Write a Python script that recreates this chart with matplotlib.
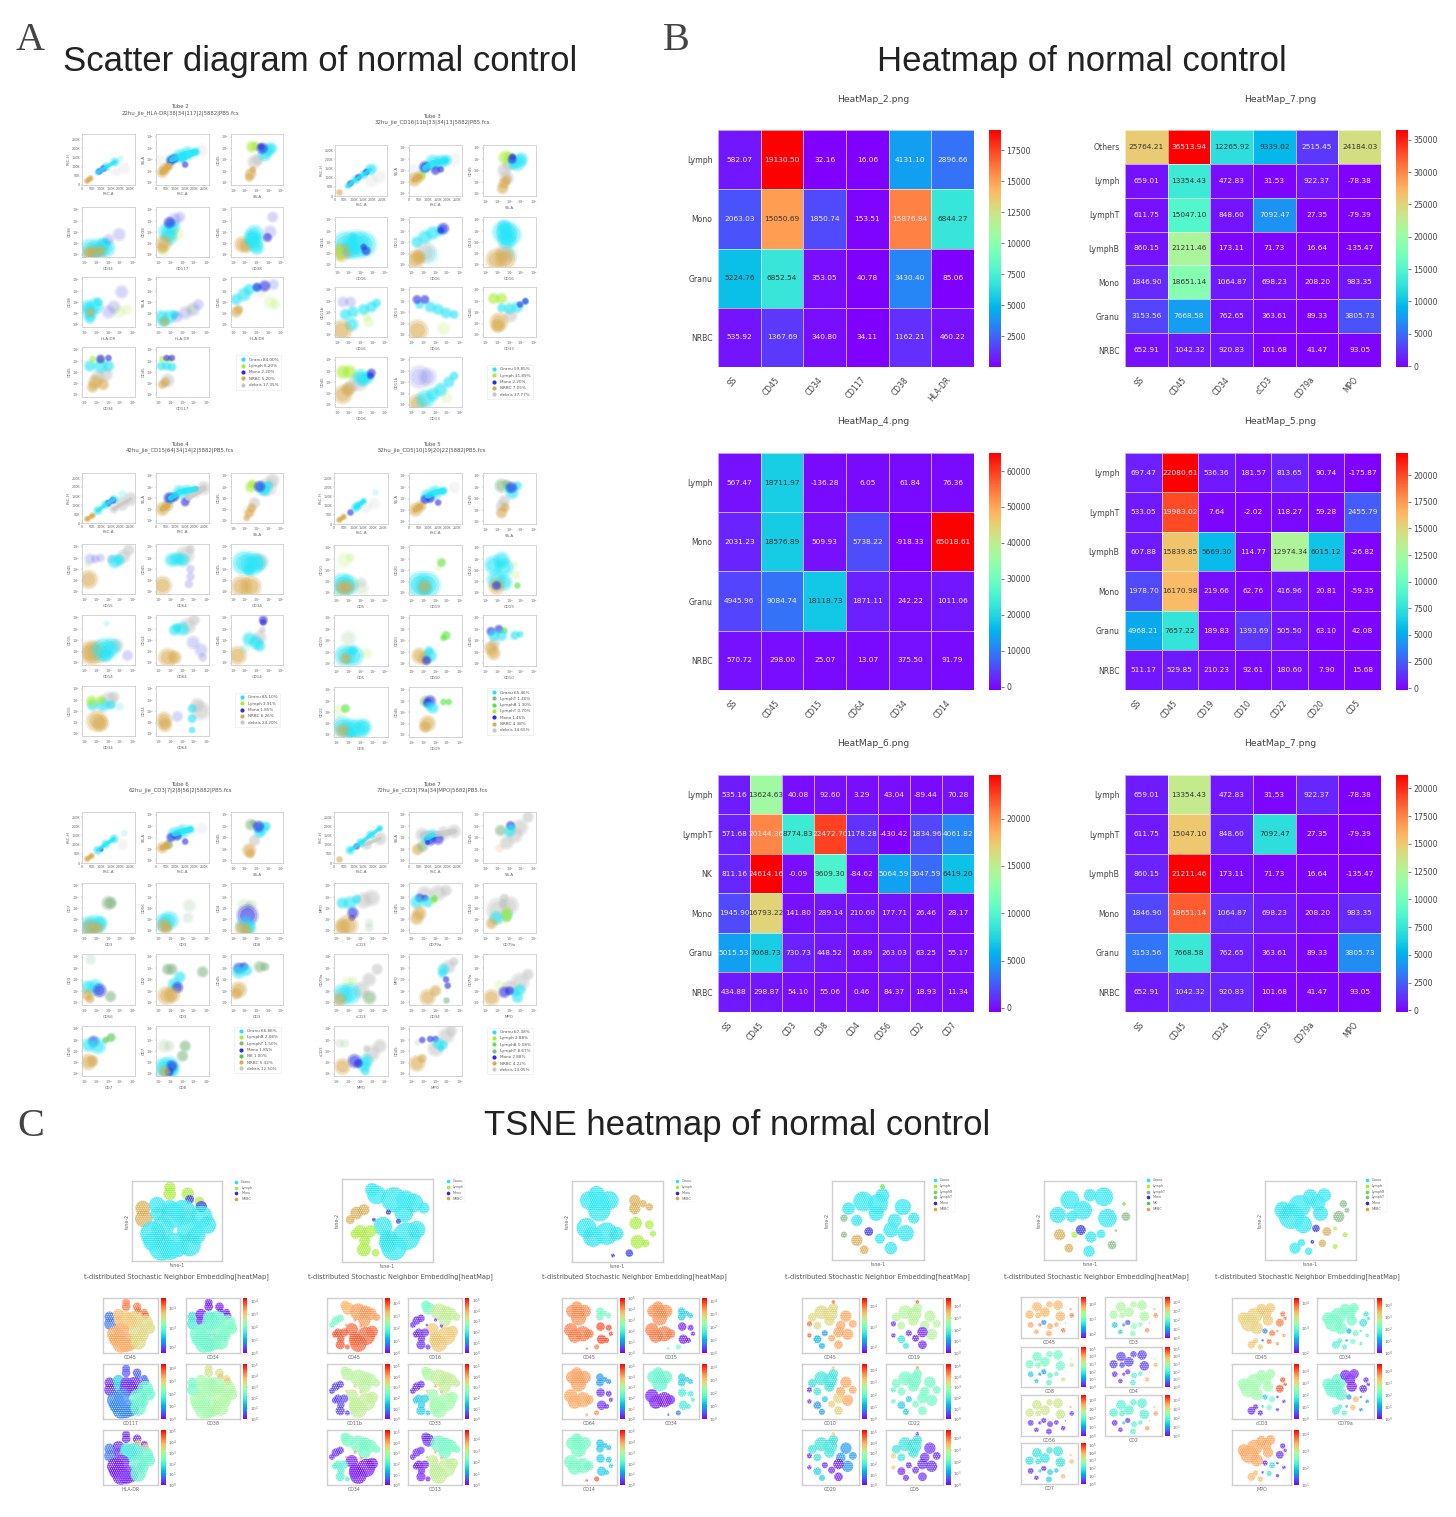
import matplotlib
matplotlib.use("Agg")
import matplotlib.pyplot as plt
import numpy as np
from matplotlib.colors import LogNorm, Normalize
from matplotlib.cm import ScalarMappable
from matplotlib.lines import Line2D

W, H = 1456, 1517
PX = 100 / 72  # pixels per point at dpi 100
GREY = "#444444"
TSNE_SCALE = 1.25

plt.rcParams["font.family"] = "DejaVu Sans"
plt.rcParams["hatch.linewidth"] = .5

# ---------- heatmaps: values ----------
H2_ROWS = ["Lymph", "Mono", "Granu", "NRBC"]
H2_COLS = ["SS", "CD45", "CD34", "CD117", "CD38", "HLA-DR"]
H2_VALUES = [
    [582.07, 19130.50, 32.16, 16.06, 4131.10, 2896.66],
    [2063.03, 15050.69, 1850.74, 153.51, 15876.84, 6844.27],
    [5224.76, 6852.54, 353.05, 40.78, 3430.40, 85.06],
    [535.92, 1367.69, 340.80, 34.11, 1162.21, 460.22],
]
H7A_ROWS = ["Others", "Lymph", "LymphT", "LymphB", "Mono", "Granu", "NRBC"]
H7_COLS = ["SS", "CD45", "CD34", "cCD3", "CD79a", "MPO"]
H7A_VALUES = [
    [25764.21, 36513.94, 12265.92, 9339.02, 2515.45, 24184.03],
    [659.01, 13354.43, 472.83, 31.53, 922.37, -78.38],
    [611.75, 15047.10, 848.60, 7092.47, 27.35, -79.39],
    [860.15, 21211.46, 173.11, 71.73, 16.64, -135.47],
    [1846.90, 18651.14, 1064.87, 698.23, 208.20, 983.35],
    [3153.56, 7668.58, 762.65, 363.61, 89.33, 3805.73],
    [652.91, 1042.32, 920.83, 101.68, 41.47, 93.05],
]
H4_ROWS = ["Lymph", "Mono", "Granu", "NRBC"]
H4_COLS = ["SS", "CD45", "CD15", "CD64", "CD34", "CD14"]
H4_VALUES = [
    [567.47, 18711.97, -136.28, 6.05, 61.84, 76.36],
    [2031.23, 18576.89, 509.93, 5738.22, -918.33, 65018.61],
    [4945.96, 9084.74, 18118.73, 1871.11, 242.22, 1011.06],
    [570.72, 298.00, 25.07, 13.07, 375.50, 91.79],
]
H5_ROWS = ["Lymph", "LymphT", "LymphB", "Mono", "Granu", "NRBC"]
H5_COLS = ["SS", "CD45", "CD19", "CD10", "CD22", "CD20", "CD5"]
H5_VALUES = [
    [697.47, 22080.61, 536.36, 181.57, 813.65, 90.74, -175.87],
    [533.05, 19983.02, 7.64, -2.02, 118.27, 59.28, 2455.79],
    [607.88, 15839.85, 5669.30, 114.77, 12974.34, 6015.12, -26.82],
    [1978.70, 16170.98, 219.66, 62.76, 416.96, 20.81, -59.35],
    [4968.21, 7657.22, 189.83, 1393.69, 505.50, 63.10, 42.08],
    [511.17, 529.85, 210.23, 92.61, 180.60, 7.90, 15.68],
]
H6_ROWS = ["Lymph", "LymphT", "NK", "Mono", "Granu", "NRBC"]
H6_COLS = ["SS", "CD45", "CD3", "CD8", "CD4", "CD56", "CD2", "CD7"]
H6_VALUES = [
    [535.16, 13624.63, 40.08, 92.60, 3.29, 43.04, -89.44, 70.28],
    [571.68, 20144.36, 8774.83, 22472.70, 1178.28, -430.42, 1834.96, 4061.82],
    [811.16, 24614.16, -0.09, 9609.30, -84.62, 5064.59, 3047.59, 6419.20],
    [1945.90, 16793.22, 141.80, 289.14, 210.60, 177.71, 26.46, 28.17],
    [5015.53, 7068.73, 730.73, 448.52, 16.89, 263.03, 63.25, 55.17],
    [434.88, 298.87, 54.10, 55.06, 0.46, 84.37, 18.93, 11.34],
]

# ---------- flow cytometry panels: clouds as (x, y, spread) ----------
CLASS_COLORS = {"g": "#1fe6f7", "l": "#a6ee35", "b": "#55e83a", "t": "#86b886", "k": "#4cc84c",
                "m": "#2b2be6", "n": "#d8aa4e", "d": "#c8c8c8"}

TUBE2 = [
    {"df": [(80, 32, 5), (65, 26, 4)], "n": [(10, 8, 3), (16, 13, 3)], "g": [(30, 25, 3), (45, 35, 4), (62, 45, 4)], "m": [(33, 27, 3), (40, 32, 3)], "gf": [(72, 52, 3)]},
    {"df": [(10, 45, 6), (85, 68, 6)], "n": [(12, 25, 5), (18, 32, 5), (25, 38, 4)], "g": [(30, 50, 5), (45, 57, 6), (60, 62, 6), (75, 65, 4), (50, 52, 4)], "m": [(28, 48, 4), (35, 52, 4), (55, 40, 3)]},
    {"d": [(45, 45, 6), (52, 50, 5)], "l": [(40, 75, 5), (48, 76, 4)], "g": [(70, 68, 6), (65, 60, 6), (78, 72, 5)], "m": [(60, 72, 5), (58, 75, 3)], "n": [(38, 22, 5), (35, 15, 4), (42, 30, 3)]},
    {"g": [(15, 15, 9), (30, 15, 9), (45, 18, 8), (40, 25, 6), (25, 8, 6)], "n": [(20, 10, 6), (35, 12, 5), (12, 8, 5)], "mf": [(50, 35, 5), (70, 45, 6)]},
    {"g": [(22, 50, 8), (30, 60, 7), (25, 40, 7)], "m": [(25, 70, 5)], "mf": [(35, 75, 6), (45, 80, 5)], "n": [(15, 28, 7), (12, 18, 5)], "lf": [(40, 45, 6), (15, 10, 5)]},
    {"n": [(22, 25, 7), (30, 22, 6)], "g": [(45, 30, 8), (45, 45, 8), (50, 18, 6), (40, 38, 7)], "m": [(70, 40, 4)], "mf": [(75, 50, 6), (80, 80, 5)]},
    {"g": [(10, 40, 6), (25, 42, 7), (30, 50, 4), (15, 30, 7), (15, 18, 5)], "n": [(15, 30, 4)], "mf": [(50, 30, 6), (60, 40, 6), (75, 70, 6)], "lf": [(70, 30, 6), (85, 35, 5)]},
    {"g": [(10, 20, 6), (25, 20, 6), (15, 10, 5), (35, 25, 4)], "n": [(15, 12, 4)], "mf": [(40, 20, 5), (55, 28, 6), (70, 35, 6), (80, 45, 5)], "lf": [(65, 35, 5)]},
    {"n": [(10, 30, 5), (15, 35, 4)], "g": [(10, 55, 5), (25, 65, 6), (35, 75, 5), (50, 78, 4)], "m": [(50, 80, 4), (65, 82, 5)], "mf": [(80, 85, 5)], "lf": [(75, 50, 6), (85, 45, 5)], "df": [(55, 70, 5)]},
    {"d": [(45, 45, 6), (30, 40, 6)], "n": [(25, 30, 6), (40, 25, 5), (20, 20, 5)], "g": [(15, 62, 5), (35, 62, 6), (50, 62, 5)], "l": [(20, 76, 3), (35, 75, 3)], "m": [(35, 76, 4), (50, 78, 3)]},
    {"d": [(20, 35, 6)], "n": [(12, 25, 4), (18, 30, 4)], "g": [(10, 62, 4), (20, 62, 4), (30, 60, 4)], "l": [(12, 76, 3), (25, 76, 3)], "m": [(20, 78, 3), (30, 78, 3)]},
]
TUBE3 = [
    {"df": [(70, 30, 6), (85, 38, 6)], "n": [(8, 7, 3)], "g": [(25, 20, 3), (40, 32, 4), (55, 42, 4), (68, 52, 5)], "m": [(30, 25, 3), (45, 37, 3), (60, 47, 3)], "gf": [(75, 57, 4)]},
    {"df": [(10, 50, 6), (85, 72, 6)], "n": [(10, 32, 6), (20, 38, 5)], "l": [(25, 42, 3)], "g": [(30, 55, 5), (45, 65, 7), (60, 67, 6), (70, 70, 5)], "m": [(30, 57, 5), (50, 50, 4), (60, 52, 3)]},
    {"d": [(40, 50, 6), (48, 60, 5), (45, 35, 6)], "l": [(42, 75, 6), (50, 76, 5)], "g": [(65, 65, 7), (72, 72, 6), (58, 63, 5)], "m": [(55, 72, 4), (56, 77, 3)], "n": [(40, 25, 5), (37, 15, 5), (45, 32, 4)]},
    {"g": [(20, 45, 11), (40, 45, 12), (55, 45, 11), (30, 35, 8), (35, 60, 4)], "n": [(12, 30, 8)], "l": [(8, 35, 4), (10, 20, 3)], "m": [(60, 32, 4), (55, 40, 3)]},
    {"d": [(30, 30, 9)], "g": [(15, 50, 5), (30, 60, 6), (45, 68, 6), (60, 73, 5)], "gf": [(40, 25, 8)], "m": [(65, 77, 5), (60, 73, 3)], "n": [(12, 15, 8), (18, 20, 6)]},
    {"d": [(40, 30, 8)], "g": [(40, 70, 10), (50, 65, 10), (45, 55, 8), (40, 80, 6)], "gf": [(50, 28, 7)], "n": [(25, 15, 9), (42, 17, 9)]},
    {"g": [(20, 45, 5), (35, 50, 5), (55, 55, 5), (70, 60, 5), (80, 68, 4), (32, 25, 6)], "n": [(12, 15, 9)], "mf": [(15, 70, 5), (30, 70, 5)], "lf": [(65, 30, 5), (60, 40, 4)]},
    {"g": [(20, 65, 4), (40, 60, 5), (55, 55, 5), (70, 48, 5), (85, 45, 4)], "m": [(15, 75, 4), (30, 75, 4)], "n": [(15, 15, 9)], "lf": [(65, 18, 6)]},
    {"d": [(50, 45, 6)], "l": [(20, 77, 5), (35, 77, 5)], "g": [(35, 58, 4), (50, 57, 5), (65, 60, 5), (80, 70, 3)], "m": [(70, 65, 3), (80, 72, 3)], "n": [(30, 30, 8), (28, 22, 6)]},
    {"d": [(45, 50, 8), (30, 40, 6)], "l": [(15, 70, 6), (28, 70, 6)], "g": [(50, 60, 7), (55, 55, 6), (65, 60, 5)], "m": [(70, 68, 4), (68, 62, 3)], "n": [(15, 25, 8), (25, 35, 6)]},
    {"mf": [(20, 60, 10), (35, 60, 8)], "n": [(15, 8, 8)], "g": [(30, 15, 8), (45, 25, 6), (60, 35, 6), (75, 50, 5), (85, 62, 4)], "lf": [(70, 20, 5)]},
]
TUBE4 = [
    {"d": [(60, 28, 4), (75, 38, 6), (92, 48, 6)], "n": [(10, 8, 3), (20, 15, 3)], "g": [(30, 25, 4), (45, 37, 4), (60, 47, 4)], "m": [(50, 40, 3), (58, 45, 3)], "gf": [(75, 58, 4)]},
    {"d": [(75, 62, 5), (90, 70, 6), (60, 50, 4)], "n": [(12, 28, 6), (22, 35, 5)], "g": [(28, 50, 5), (45, 62, 6), (60, 65, 5), (75, 68, 3)], "m": [(25, 50, 5), (35, 52, 4), (55, 42, 4)]},
    {"d": [(70, 72, 8), (80, 85, 6), (45, 40, 5)], "l": [(38, 72, 5), (42, 78, 4)], "g": [(60, 70, 6), (65, 65, 5), (72, 75, 4)], "m": [(53, 75, 5)], "n": [(35, 20, 4), (40, 30, 4), (30, 10, 3)], "nf": [(35, 25, 6)]},
    {"d": [(78, 75, 6), (88, 88, 5)], "mf": [(15, 70, 5), (25, 70, 4), (35, 72, 4), (55, 70, 4)], "g": [(62, 65, 6), (70, 68, 5)], "n": [(12, 30, 8)], "lf": [(10, 60, 3)]},
    {"d": [(55, 78, 8), (65, 90, 4)], "g": [(30, 68, 6), (40, 70, 6), (50, 68, 6)], "mf": [(65, 50, 4), (65, 35, 4), (62, 20, 4)], "n": [(12, 18, 8)]},
    {"d": [(55, 65, 7)], "g": [(25, 62, 10), (40, 60, 10), (50, 62, 8), (35, 48, 5)], "n": [(20, 15, 9), (38, 15, 9)]},
    {"d": [(65, 40, 6)], "n": [(15, 25, 10), (25, 25, 10)], "g": [(40, 30, 10), (55, 35, 8), (45, 20, 6)], "gf": [(45, 85, 3)], "mf": [(85, 20, 5)]},
    {"d": [(60, 78, 7), (72, 90, 5)], "g": [(35, 70, 5), (50, 72, 6), (40, 75, 4)], "mf": [(70, 45, 6), (85, 30, 6), (88, 15, 4)], "n": [(22, 15, 8), (35, 15, 6)]},
    {"d": [(55, 55, 6), (60, 70, 3)], "m": [(62, 90, 4), (62, 85, 3)], "g": [(35, 52, 6), (48, 45, 6), (55, 38, 5)], "n": [(12, 20, 8)], "gf": [(25, 35, 4)]},
    {"d": [(50, 72, 7), (60, 78, 5)], "g": [(20, 62, 5), (40, 62, 6), (55, 62, 4)], "l": [(18, 70, 5), (35, 72, 4)], "n": [(28, 30, 9), (35, 25, 7)], "gf": [(70, 60, 4)]},
    {"d": [(85, 50, 8), (78, 62, 6)], "g": [(68, 55, 4), (68, 35, 4), (68, 12, 3)], "n": [(15, 32, 7), (17, 22, 6)], "mf": [(40, 40, 5)]},
]
TUBE5 = [
    {"df": [(75, 40, 5), (60, 32, 5)], "n": [(10, 8, 3), (18, 14, 3)], "m": [(30, 24, 3)], "g": [(40, 32, 4), (55, 45, 3), (45, 37, 4)], "gf": [(75, 62, 3)]},
    {"df": [(85, 72, 5)], "n": [(12, 28, 6), (22, 35, 5)], "g": [(35, 55, 6), (50, 62, 6), (65, 65, 4)], "m": [(30, 48, 4), (40, 50, 4), (55, 42, 3)]},
    {"d": [(40, 45, 5), (35, 35, 5)], "t": [(35, 75, 6), (45, 78, 4)], "g": [(55, 62, 6), (50, 70, 4), (65, 75, 4)], "m": [(52, 72, 5)], "n": [(35, 22, 5), (42, 32, 4)]},
    {"g": [(15, 20, 10), (25, 20, 9)], "n": [(15, 15, 6), (25, 15, 6)], "tf": [(50, 15, 7), (50, 25, 5)], "lf": [(20, 70, 7), (30, 75, 4)]},
    {"g": [(20, 20, 11), (35, 20, 11), (30, 12, 6)], "n": [(28, 18, 6)], "b": [(60, 65, 4)], "lf": [(55, 55, 3)]},
    {"g": [(20, 60, 8), (35, 70, 7), (40, 55, 8), (25, 30, 8), (40, 25, 7)], "n": [(25, 18, 7)], "m": [(25, 20, 4)], "b": [(65, 20, 3)], "lf": [(62, 40, 4), (60, 60, 3)]},
    {"tf": [(25, 55, 7)], "g": [(20, 20, 9), (35, 20, 9), (35, 30, 4)], "n": [(20, 15, 5)], "lf": [(60, 25, 5)]},
    {"b": [(70, 60, 4), (65, 55, 3)], "n": [(20, 20, 7), (30, 15, 6)], "g": [(40, 20, 6), (38, 30, 4)], "m": [(33, 12, 4)]},
    {"d": [(20, 45, 5)], "m": [(15, 68, 4), (30, 72, 4)], "b": [(40, 70, 3)], "g": [(20, 60, 5), (35, 60, 5), (60, 60, 4), (70, 62, 3)], "n": [(15, 35, 6), (20, 25, 6)]},
    {"lf": [(10, 55, 6)], "b": [(20, 58, 4)], "g": [(15, 20, 9), (30, 15, 9), (45, 15, 9), (55, 20, 7), (30, 8, 5)], "n": [(15, 15, 6)]},
    {"t": [(30, 72, 5)], "m": [(40, 72, 5), (35, 68, 4)], "g": [(45, 58, 5), (38, 62, 4)], "b": [(75, 70, 3), (65, 70, 3)], "n": [(35, 27, 7), (30, 20, 5)]},
]
TUBE6 = [
    {"df": [(75, 38, 5)], "n": [(10, 8, 3), (18, 14, 3)], "g": [(30, 25, 4), (45, 37, 4), (60, 47, 4)], "m": [(35, 28, 2)], "gf": [(80, 58, 3)]},
    {"df": [(85, 68, 5)], "n": [(12, 30, 5), (22, 35, 4)], "t": [(22, 38, 4)], "g": [(35, 57, 6), (50, 62, 6), (65, 66, 4)], "m": [(28, 50, 4), (40, 53, 4), (55, 42, 3)]},
    {"d": [(45, 45, 5)], "t": [(38, 75, 5), (43, 78, 3)], "g": [(58, 68, 6), (55, 60, 5), (68, 72, 4)], "m": [(52, 72, 5)], "n": [(35, 25, 6), (37, 18, 4)]},
    {"t": [(50, 60, 6), (55, 60, 5)], "g": [(12, 12, 9), (25, 15, 9), (35, 20, 6)], "n": [(15, 10, 7), (30, 10, 5)]},
    {"tf": [(63, 55, 6), (60, 30, 5)], "g": [(15, 20, 8), (25, 25, 8)], "n": [(15, 15, 6), (20, 10, 5)]},
    {"tf": [(25, 55, 6), (40, 55, 5), (35, 55, 4)], "m": [(30, 35, 9)], "g": [(28, 15, 8), (35, 10, 6)], "n": [(20, 10, 6), (30, 5, 5)]},
    {"tf": [(15, 90, 5)], "g": [(10, 35, 6), (25, 35, 7)], "m": [(32, 30, 6)], "n": [(10, 20, 5), (15, 12, 4)], "t": [(52, 18, 5)]},
    {"t": [(22, 70, 5), (30, 70, 5), (88, 65, 5)], "g": [(35, 40, 6), (45, 55, 5)], "m": [(40, 35, 5)], "n": [(20, 18, 8), (30, 20, 7)]},
    {"m": [(15, 72, 5), (25, 75, 4)], "g": [(15, 65, 6), (30, 68, 5)], "t": [(55, 75, 5), (65, 75, 4)], "n": [(15, 30, 7), (10, 22, 5)]},
    {"m": [(20, 70, 5)], "g": [(12, 62, 6), (30, 60, 7)], "k": [(55, 77, 4), (45, 72, 3)], "n": [(12, 28, 7), (20, 30, 5)]},
    {"tf": [(15, 60, 6), (25, 60, 5)], "t": [(55, 60, 5), (50, 40, 5)], "g": [(15, 15, 9), (25, 18, 9), (30, 12, 6)], "m": [(30, 20, 5), (25, 8, 4)], "n": [(15, 10, 5)]},
]
TUBE7 = [
    {"d": [(60, 37, 5), (85, 48, 6)], "n": [(10, 8, 3)], "g": [(30, 25, 4), (50, 40, 4), (68, 55, 4), (85, 68, 3)], "m": [(40, 33, 3)]},
    {"d": [(25, 55, 6), (65, 58, 6), (85, 62, 6)], "n": [(15, 28, 5)], "t": [(25, 33, 5)], "g": [(35, 50, 6), (45, 55, 5)], "m": [(40, 45, 5), (55, 47, 5), (35, 40, 2)]},
    {"d": [(60, 55, 7), (70, 70, 7), (85, 90, 5), (45, 40, 6)], "t": [(32, 65, 5)], "m": [(50, 75, 4)], "g": [(50, 62, 5), (55, 70, 3)], "nf": [(30, 30, 4)]},
    {"d": [(55, 65, 7), (70, 70, 7)], "g": [(15, 60, 5), (30, 60, 6), (42, 68, 4)], "m": [(35, 40, 5), (33, 30, 3)], "n": [(25, 15, 9), (15, 12, 7)], "tf": [(65, 20, 4), (65, 10, 4)]},
    {"d": [(30, 78, 7), (55, 80, 7), (70, 85, 5)], "m": [(20, 70, 4), (30, 70, 3)], "g": [(15, 62, 6), (35, 62, 5)], "l": [(45, 65, 3)], "b": [(48, 70, 3)], "n": [(20, 40, 6), (15, 30, 6)]},
    {"d": [(30, 45, 11), (50, 55, 8), (40, 70, 4)], "g": [(25, 30, 6), (45, 35, 5)], "l": [(45, 40, 5), (45, 30, 4)], "tf": [(35, 60, 4)], "n": [(15, 20, 5)]},
    {"d": [(50, 30, 7), (65, 50, 6), (80, 70, 5)], "lf": [(25, 45, 5), (35, 48, 4)], "g": [(15, 20, 9), (30, 22, 9)], "t": [(65, 15, 6)], "n": [(10, 12, 6)]},
    {"d": [(75, 75, 6), (85, 85, 4)], "g": [(65, 70, 5), (63, 62, 4)], "m": [(70, 50, 3), (73, 38, 3)], "t": [(70, 10, 3)], "n": [(35, 15, 7), (50, 28, 5)]},
    {"d": [(70, 45, 8), (50, 35, 6), (85, 60, 5)], "lf": [(30, 40, 5)], "g": [(70, 30, 5), (65, 15, 5), (60, 25, 4)], "m": [(40, 25, 5), (50, 28, 4)], "n": [(15, 15, 7)]},
    {"d": [(70, 45, 7), (85, 60, 6), (60, 55, 3)], "tf": [(10, 65, 4), (20, 65, 4)], "g": [(55, 22, 6), (60, 30, 6), (58, 10, 4)], "m": [(38, 30, 6), (45, 25, 4)], "n": [(15, 20, 7)]},
    {"d": [(50, 55, 7), (70, 80, 7), (80, 90, 5)], "m": [(25, 72, 3), (40, 74, 3), (50, 74, 3)], "tf": [(15, 68, 3)], "g": [(55, 65, 5), (65, 62, 4), (60, 55, 3)], "n": [(15, 25, 7), (25, 35, 4)]},
]

TUBE2_AXES = [("FSC-A", "FSC-H"), ("FSC-A", "SS-A"), ("SS-A", "CD45"), ("CD34", "CD38"), ("CD117", "CD38"), ("CD38", "CD45"),
              ("HLA-DR", "CD38"), ("HLA-DR", "SS-A"), ("HLA-DR", "CD45"), ("CD34", "CD45"), ("CD117", "CD45")]
TUBE3_AXES = [("FSC-A", "FSC-H"), ("FSC-A", "SS-A"), ("SS-A", "CD45"), ("CD16", "CD34"), ("CD16", "CD13"), ("CD16", "CD33"),
              ("CD16", "CD11b"), ("CD16", "CD13"), ("CD33", "CD45"), ("CD16", "CD45"), ("CD13", "CD11b")]
TUBE4_AXES = [("FSC-A", "FSC-H"), ("FSC-A", "SS-A"), ("SS-A", "CD45"), ("CD15", "CD45"), ("CD64", "CD45"), ("CD34", "CD45"),
              ("CD14", "CD15"), ("CD64", "CD14"), ("CD14", "CD45"), ("CD34", "CD15"), ("CD64", "CD34")]
TUBE5_AXES = [("FSC-A", "FSC-H"), ("FSC-A", "SS-A"), ("SS-A", "CD45"), ("CD5", "CD10"), ("CD19", "CD20"), ("CD19", "CD22"),
              ("CD5", "CD19"), ("CD10", "CD20"), ("CD10", "CD45"), ("CD5", "CD22"), ("CD19", "CD45")]
TUBE6_AXES = [("FSC-A", "FSC-H"), ("FSC-A", "SS-A"), ("SS-A", "CD45"), ("CD3", "CD7"), ("CD3", "CD56"), ("CD8", "CD4"),
              ("CD56", "CD3"), ("CD3", "CD2"), ("CD3", "CD45"), ("CD7", "CD45"), ("CD8", "CD7")]
TUBE7_AXES = [("FSC-A", "FSC-H"), ("FSC-A", "SS-A"), ("SS-A", "CD45"), ("cCD3", "MPO"), ("CD79a", "CD45"), ("CD79a", "CD34"),
              ("cCD3", "CD79a"), ("CD34", "MPO"), ("MPO", "CD79a"), ("MPO", "cCD3"), ("MPO", "CD45")]

TUBE2_LEGEND = [("g", "Granu 84.00%"), ("l", "Lymph 8.20%"), ("m", "Mono 2.20%"), ("n", "NRBC 5.20%"), ("d", "debris 17.35%")]
TUBE3_LEGEND = [("g", "Granu 59.85%"), ("l", "Lymph 31.89%"), ("m", "Mono 2.20%"), ("n", "NRBC 7.05%"), ("d", "debris 37.77%")]
TUBE4_LEGEND = [("g", "Granu 85.10%"), ("l", "Lymph 3.91%"), ("m", "Mono 1.85%"), ("n", "NRBC 6.26%"), ("d", "debris 24.20%")]
TUBE5_LEGEND = [("g", "Granu 65.46%"), ("t", "LymphT 1.40%"), ("b", "LymphB 1.30%"), ("l", "LymphT 0.70%"), ("m", "Mono 1.45%"), ("n", "NRBC 4.38%"), ("d", "debris 34.65%")]
TUBE6_LEGEND = [("g", "Granu 66.86%"), ("l", "LymphB 2.08%"), ("t", "LymphT 1.50%"), ("m", "Mono 1.85%"), ("k", "NK 1.00%"), ("n", "NRBC 5.32%"), ("d", "debris 12.50%")]
TUBE7_LEGEND = [("g", "Granu 67.38%"), ("l", "Lymph 2.88%"), ("b", "LymphB 0.58%"), ("t", "LymphT 8.67%"), ("m", "Mono 2.88%"), ("n", "NRBC 4.22%"), ("d", "debris 13.05%")]

# ---------- t-SNE maps: patches as (x, y, size, group), one colour position per group ----------
T1_PATCHES = [(42, 92, 9, 0), (42, 84, 10, 0), (62, 84, 10, 0), (75, 74, 8, 0), (64, 77, 7, 1), (77, 68, 9, 1),
              (12, 66, 12, 2), (13, 53, 14, 2), (28, 70, 13, 3), (28, 59, 11, 3),
              (46, 57, 20, 4), (57, 61, 20, 4), (42, 66, 13, 4),
              (23, 34, 20, 5), (34, 41, 18, 5), (33, 16, 20, 5), (49, 20, 20, 5), (42, 14, 16, 5), (23, 24, 15, 5),
              (77, 55, 18, 6), (64, 39, 20, 6), (84, 45, 14, 6), (64, 20, 18, 6), (72, 32, 14, 6)]
T1_CLASSES = ["l", "m", "n", "g", "g", "g", "g"]
T1_MARKERS = ["CD45", "CD34", "CD117", "CD38", "HLA-DR"]
T1_LEVELS = [[.85, .88, .15, .75, .72, .78, .68], [.03, .04, .36, .02, .42, .43, .45], [.1, .15, .05, .3, .05, .17, .42],
             [.65, .75, .45, .55, .55, .55, .58], [.05, .75, .15, .05, .36, .03, .42]]
T1_DECADES = [(1.7, 4.5), (0, 4.2), (0, 4.3), (0, 5.1), (0, 5.1)]
T1_LEGEND = ["Granu", "Lymph", "Mono", "NRBC"]

T2_PATCHES = [(38, 81, 15, 0), (33, 87, 11, 0), (57, 75, 20, 1), (79, 71, 15, 1), (68, 59, 15, 1), (90, 65, 9, 1), (70, 75, 15, 1),
              (45, 43, 15, 2), (51, 28, 14, 2), (71, 31, 22, 2), (82, 39, 14, 2), (57, 17, 20, 2), (51, 23, 15, 2),
              (51, 60, 4, 3), (62, 49, 4, 3), (35, 51, 3, 3),
              (16, 59, 10, 4), (9, 51, 7, 4), (24, 63, 9, 4),
              (20, 37, 10, 5), (31, 37, 10, 5), (24, 15, 11, 5), (37, 11, 6, 5), (15, 34, 8, 5), (25, 26, 9, 5)]
T2_CLASSES = ["g", "g", "g", "m", "n", "l"]
T2_MARKERS = ["CD45", "CD16", "CD11b", "CD33", "CD34", "CD13"]
T2_LEVELS = [[.75, .8, .88, .8, .45, .9], [.45, .62, .72, .05, .05, .05], [.6, .6, .62, .7, .08, .08],
             [.58, .62, .55, .75, .05, .3], [.45, .45, .02, .8, .05, .4], [.05, .45, .62, .75, .05, .03]]
T2_DECADES = [(0, 4.4), (0, 5.2), (0, 5.2), (0, 5.2), (0, 5.2), (0, 4.8)]
T2_LEGEND = ["Granu", "Lymph", "Mono", "NRBC"]

T3_PATCHES = [(30, 64, 18, 0), (19, 76, 15, 0), (41, 76, 15, 0), (27, 84, 13, 0), (30, 75, 15, 0),
              (16, 42, 16, 1), (38, 35, 18, 1), (23, 31, 16, 1), (49, 35, 11, 1),
              (69, 76, 9, 2), (78, 72, 6, 2), (69, 66, 9, 2), (85, 68, 6, 2),
              (70, 48, 10, 3), (85, 46, 7, 3), (72, 25, 11, 3), (81, 23, 6, 3), (89, 35, 5, 3),
              (45, 8, 3, 4), (63, 11, 6, 4)]
T3_CLASSES = ["g", "g", "n", "l", "m"]
T3_MARKERS = ["CD45", "CD15", "CD64", "CD34", "CD14"]
T3_LEVELS = [[.82, .85, .45, .92, .85], [.82, .85, .3, .03, .45], [.8, .78, .2, .05, .82],
             [.42, .02, .3, .38, .15], [.45, .45, .28, .3, .9]]
T3_DECADES = [(0, 5), (0, 4.2), (0, 5.2), (0, 4.2), (0, 5.1)]
T3_LEGEND = ["Granu", "Lymph", "Mono", "NRBC"]

T4_PATCHES = [(34, 74, 16, 0), (18, 65, 10, 0), (50, 71, 16, 0), (27, 50, 9, 0), (48, 59, 12, 0), (55, 82, 11, 0),
              (77, 67, 13, 1), (89, 53, 9, 1), (80, 34, 13, 1), (68, 50, 11, 1),
              (55, 93, 4, 2), (13, 53, 6, 3), (13, 32, 5, 3), (40, 36, 7, 4), (27, 25, 9, 5), (35, 13, 7, 5),
              (64, 38, 12, 6), (64, 15, 10, 6), (52, 27, 8, 6)]
T4_CLASSES = ["g", "g", "b", "t", "m", "n", "g"]
T4_MARKERS = ["CD45", "CD19", "CD10", "CD22", "CD20", "CD5"]
T4_LEVELS = [[.68, .78, .9, .88, .2, .25, .78], [.6, .6, .9, .05, .05, .35, .03], [.35, .78, .7, .05, .3, .2, .7],
             [.45, .45, .8, .4, .3, .3, .45], [.35, .2, .7, .05, .05, .3, .03], [.35, .05, .05, .7, .05, .03, .05]]
T4_DECADES = [(1.7, 4.4), (0, 4.7), (0, 4.5), (0, 5.2), (0, 5.2), (0, 4.7)]
T4_LEGEND = ["Granu", "Lymph", "LymphB", "LymphT", "Mono", "NRBC"]

T5_PATCHES = [(28, 76, 15, 0), (15, 57, 13, 0), (42, 63, 15, 0), (65, 80, 15, 0), (69, 53, 15, 0), (50, 82, 10, 0), (30, 55, 9, 0),
              (87, 71, 3, 1), (89, 55, 7, 2), (74, 19, 7, 2), (78, 37, 2, 2),
              (40, 38, 8, 3), (17, 32, 9, 4), (27, 15, 7, 4), (33, 32, 5, 5),
              (51, 29, 9, 6), (49, 11, 9, 6), (62, 33, 7, 6)]
T5_CLASSES = ["g", "b", "t", "m", "n", "l", "g"]
T5_MARKERS = ["CD45", "CD3", "CD8", "CD4", "CD56", "CD2", "CD7"]
T5_LEVELS = [[.75, .85, .85, .2, .78, .85, .78], [.58, .8, .82, .1, .3, .2, .5], [.45, .6, .65, .2, .3, .2, .4],
             [.08, .6, .75, .05, .05, .05, .4], [.65, .8, .05, .05, .05, .05, .05], [.4, .7, .8, .05, .05, .3, .4],
             [.35, .75, .75, .05, .05, .3, .3]]
T5_DECADES = [(1.7, 4.5), (0, 4.6), (0, 5.2), (0, 5.2), (0, 4.6), (0, 4.6), (0, 5.2)]
T5_LEGEND = ["Granu", "Lymph", "LymphT", "Mono", "NK", "NRBC"]

T6_PATCHES = [(29, 55, 20, 0), (20, 63, 14, 0), (38, 68, 18, 0), (42, 45, 14, 0), (50, 80, 12, 1), (61, 59, 12, 1), (65, 82, 11, 1), (58, 72, 12, 1),
              (33, 15, 9, 2), (48, 11, 6, 2), (40, 22, 6, 2),
              (86, 71, 6, 3), (81, 55, 9, 3), (90, 63, 4, 3), (56, 40, 6, 4), (52, 23, 3, 4),
              (68, 36, 7, 5), (63, 21, 6, 5), (77, 40, 3, 6), (88, 32, 4, 6), (77, 17, 4, 6)]
T6_CLASSES = ["g", "g", "g", "t", "m", "n", "l"]
T6_MARKERS = ["CD45", "CD34", "cCD3", "CD79a", "MPO"]
T6_LEVELS = [[.7, .72, .72, .85, .18, .85, .8], [.45, .45, .4, .35, .25, .45, .4], [.55, .55, .05, .9, .3, .45, .08],
             [.42, .03, .4, .05, .2, .75, .2], [.78, .78, .75, .05, .05, .35, .05]]
T6_DECADES = [(2, 4.2), (0, 4.6), (0, 4.6), (0, 4.6), (1, 4.2)]
T6_LEGEND = ["Granu", "Lymph", "LymphB", "LymphT", "Mono", "NRBC"]
LEGEND_CLASS = {"Granu": "g", "Lymph": "l", "LymphB": "b", "LymphT": "t", "Mono": "m", "NK": "k", "NRBC": "n"}

fig = plt.figure(figsize=(W / 100, H / 100), dpi=100, facecolor="white")


def px_axes(x0, y0, x1, y1):
    return fig.add_axes([x0 / W, 1 - y1 / H, (x1 - x0) / W, (y1 - y0) / H])


def px_text(x, y, s, **kw):
    kw.setdefault("ha", "center")
    kw.setdefault("va", "center")
    fig.text(x / W, 1 - y / H, s, **kw)


def heatmap(rect, cbar_x, title, rows, cols, values, cticks):
    data = np.array(values)
    x0, y0, x1, y1 = rect
    ax = px_axes(x0, y0, x1, y1)
    norm = Normalize(data.min(), data.max())
    cmap = plt.get_cmap("rainbow")
    mesh = ax.pcolormesh(data, cmap=cmap, norm=norm, edgecolors=(1, 1, 1, .6), linewidth=.7)
    ax.invert_yaxis()
    for i, row in enumerate(data):
        for j, v in enumerate(row):
            r, g, b, _ = cmap(norm(v))
            lum = .2126 * r ** 2.2 + .7152 * g ** 2.2 + .0722 * b ** 2.2
            col = "#333333" if lum > .408 else "#f4eeff"
            ax.text(j + .5, i + .5, f"{v:.2f}", color=col, ha="center", va="center", fontsize=5.3)
    ax.set_xticks(np.arange(len(cols)) + .5)
    ax.set_xticklabels(cols, rotation=50, ha="right", fontsize=5.5, color=GREY)
    ax.set_yticks(np.arange(len(rows)) + .5)
    ax.set_yticklabels(rows, fontsize=5.6, color=GREY)
    ax.tick_params(axis="x", length=0, pad=6)
    ax.tick_params(axis="y", length=0, pad=4)
    for s in ax.spines.values():
        s.set_visible(False)
    cax = px_axes(cbar_x, y0, cbar_x + 12, y1)
    cb = fig.colorbar(mesh, cax=cax, ticks=cticks)
    cb.outline.set_visible(False)
    cb.ax.tick_params(labelsize=5.6, length=2, width=.5, color=GREY, labelcolor=GREY, pad=2)
    px_text((x0 + x1) / 2 + 27, y0 - 31, title, fontsize=6.7, color=GREY)


LOG_POS = [5, 27, 50, 72, 95]
LOG_LABELS = [f"$10^{i}$" for i in range(1, 6)]
LIN_POS = [0, 18, 36, 54, 72, 90]
LIN_LABELS = ["0", "50K", "100K", "150K", "200K", "250K"]


def flow_panel(rect, clouds, xlabel, ylabel, index):
    ax = px_axes(*rect)
    ax.set_xlim(0, 100)
    ax.set_ylim(0, 100)
    order = sorted(clouds, key=lambda k: 0 if k[0] == "d" else 1)
    for key in order:
        pts = np.array(clouds[key])
        faint = key.endswith("f")
        col = CLASS_COLORS[key[0]]
        # ridge of the streak in the two scatter panels of the first row
        if index < 2 and not faint and key in ("g", "n", "d") and len(pts) > 1:
            ax.plot(pts[:, 0], pts[:, 1], color=col, lw=2.6 if index == 0 else 4, alpha=.8, solid_capstyle="round")
        # spread is in pixels, marker size in points squared
        size = (pts[:, 2] * 2.2 / PX) ** 2
        base = .07 if faint else .28
        for k, a in ((1.4, base * .6), (1, base), (.55, base * 1.2)):
            ax.scatter(pts[:, 0], pts[:, 1], s=size * k, color=col, alpha=a, lw=0)
    if index == 0:
        ax.set_xticks(LIN_POS, LIN_LABELS)
        ax.set_yticks(LIN_POS, LIN_LABELS)
    elif index == 1:
        ax.set_xticks(LIN_POS, LIN_LABELS)
        ax.set_yticks(LOG_POS, LOG_LABELS)
    else:
        ax.set_xticks(LOG_POS, LOG_LABELS)
        ax.set_yticks(LOG_POS, LOG_LABELS)
    ax.tick_params(labelsize=2.4, length=1, width=.3, pad=.5, color="#888888", labelcolor="#666666")
    ax.set_xlabel(xlabel, fontsize=2.9, color="#666666", labelpad=.6)
    ax.set_ylabel(ylabel, fontsize=2.9, color="#666666", labelpad=.6)
    for s in ax.spines.values():
        s.set_color("#c4c4c4")
        s.set_linewidth(.5)
    return ax


def flow_tube(xs, ys, title, name, title_x, title_y, panels, labels, legend, legend_rect):
    for i, clouds in enumerate(panels):
        r, c = divmod(i, 3)
        flow_panel((xs[c][0], ys[r][0], xs[c][1], ys[r][1]), clouds, labels[i][0], labels[i][1], i)
    px_text(title_x, title_y, title, fontsize=3.9, color="#555555")
    px_text(title_x, title_y + 6.5, name, fontsize=3.9, color="#555555")
    lax = px_axes(*legend_rect)
    lax.axis("off")
    handles = [Line2D([], [], ls="", marker="o", ms=2, color=CLASS_COLORS[k], label=t) for k, t in legend]
    leg = lax.legend(handles=handles, loc="center", fontsize=3, frameon=True, labelspacing=.55, borderpad=.6,
                     handletextpad=.5, fancybox=False, edgecolor="#e2e2e2", labelcolor="#555555")
    leg.get_frame().set_linewidth(.4)


def tsne_scatter(ax, patches, colors, scale):
    pts = np.array([p[:3] for p in patches])
    groups = [p[3] for p in patches]
    ax.set_xlim(0, 100)
    ax.set_ylim(0, 100)
    ax.set_xticks([])
    ax.set_yticks([])
    size = (pts[:, 2] * scale / PX) ** 2
    ax.scatter(pts[:, 0], pts[:, 1], s=size, facecolor=[colors[g] for g in groups], edgecolor="white", hatch="........", lw=0, alpha=.8)
    for s in ax.spines.values():
        s.set_color("#cfcfcf")
        s.set_linewidth(1)


def tsne_block(top_rect, leg_rect, cap_x, cols, rows, patches, classes, markers, levels, decades, legend):
    ax = px_axes(*top_rect)
    tsne_scatter(ax, patches, [CLASS_COLORS[c] for c in classes], TSNE_SCALE)
    ax.set_xlabel("tsne-1", fontsize=3.4, color="#666666", labelpad=1.5)
    ax.set_ylabel("tsne-2", fontsize=3.4, color="#666666", labelpad=1.5)
    lax = px_axes(*leg_rect)
    lax.axis("off")
    handles = [Line2D([], [], ls="", marker="o", ms=1.6, color=CLASS_COLORS[LEGEND_CLASS[t]], label=t) for t in legend]
    leg = lax.legend(handles=handles, loc="center", fontsize=2.4, frameon=True, labelspacing=.5, borderpad=.5,
                     handletextpad=.5, fancybox=False, edgecolor="#ececec", labelcolor="#666666")
    leg.get_frame().set_linewidth(.3)
    px_text(cap_x, 1277, "t-distributed Stochastic Neighbor Embedding[heatMap]", fontsize=4.8, color="#555555")
    cmap = plt.get_cmap("rainbow")
    for i, (marker, lv, dec) in enumerate(zip(markers, levels, decades)):
        r, c = divmod(i, 2)
        x0, x1 = cols[c]
        y0, y1 = rows[r]
        sub = px_axes(x0, y0, x1, y1)
        tsne_scatter(sub, patches, [cmap(v) for v in lv], TSNE_SCALE * (y1 - y0) / (top_rect[3] - top_rect[1]))
        sub.set_xlabel(marker, fontsize=3.4, color="#666666", labelpad=1.2)
        cax = px_axes(x1 + 3, y0, x1 + 7.5, y1)
        sm = ScalarMappable(LogNorm(10 ** dec[0], 10 ** dec[1]), cmap)
        cb = fig.colorbar(sm, cax=cax)
        cb.set_ticks([10 ** k for k in range(int(np.ceil(dec[0])), int(dec[1]) + 1)])
        cb.minorticks_off()
        cb.outline.set_visible(False)
        cb.ax.tick_params(labelsize=3, length=1, width=.3, pad=.8, color="#888888", labelcolor="#666666")


# panel A
px_text(30, 40, "A", fontsize=29, family="Liberation Serif", color="#444444")
px_text(320, 61, "Scatter diagram of normal control", fontsize=25, family="Liberation Sans", color="#222222")
XS_L = [(82, 135), (156, 209), (231, 283)]
XS_R = [(334, 388), (409, 462), (483, 536)]
flow_tube(XS_L, [(134, 185), (207, 257), (277, 327), (347, 397)], "Tube 2", "22hu_jie_HLA-DR|38|34|117|2|5882|PB5.fcs", 180, 107,
          TUBE2, TUBE2_AXES, TUBE2_LEGEND, (235, 357, 282, 388))
flow_tube([(335, 387), (409, 462), (483, 536)], [(145, 196), (217, 267), (287, 337), (357, 407)], "Tube 3", "32hu_jie_CD16|11b|33|34|13|5882|PB5.fcs", 432, 116,
          TUBE3, TUBE3_AXES, TUBE3_LEGEND, (487, 366, 533, 398))
flow_tube(XS_L, [(473, 523), (544, 594), (615, 665), (686, 736)], "Tube 4", "42hu_jie_CD15|64|34|14|2|5882|PB5.fcs", 180, 444,
          TUBE4, TUBE4_AXES, TUBE4_LEGEND, (235, 693, 280, 727))
flow_tube(XS_R, [(473, 524), (545, 595), (615, 666), (687, 737)], "Tube 5", "52hu_jie_CD5|10|19|20|22|5882|PB5.fcs", 432, 444,
          TUBE5, TUBE5_AXES, TUBE5_LEGEND, (487, 690, 533, 733))
flow_tube(XS_L, [(812, 863), (883, 933), (954, 1005), (1026, 1076)], "Tube 6", "62hu_jie_CD3|7|2|8|56|2|5882|PB5.fcs", 180, 784,
          TUBE6, TUBE6_AXES, TUBE6_LEGEND, (235, 1028, 280, 1072))
flow_tube(XS_R, [(812, 863), (883, 933), (954, 1005), (1026, 1076)], "Tube 7", "72hu_jie_cCD3|79a|34|MPO|5882|PB5.fcs", 432, 784,
          TUBE7, TUBE7_AXES, TUBE7_LEGEND, (487, 1029, 533, 1073))

# panel B
px_text(676, 40, "B", fontsize=29, family="Liberation Serif", color="#444444")
px_text(1082, 61, "Heatmap of normal control", fontsize=25, family="Liberation Sans", color="#222222")
heatmap((718, 130, 974, 367), 989, "HeatMap_2.png", H2_ROWS, H2_COLS, H2_VALUES, np.arange(2500, 17501, 2500))
heatmap((1125, 130, 1381, 367), 1396, "HeatMap_7.png", H7A_ROWS, H7_COLS, H7A_VALUES, np.arange(0, 35001, 5000))
heatmap((718, 453, 974, 690), 989, "HeatMap_4.png", H4_ROWS, H4_COLS, H4_VALUES, np.arange(0, 60001, 10000))
heatmap((1125, 453, 1381, 690), 1396, "HeatMap_5.png", H5_ROWS, H5_COLS, H5_VALUES, np.arange(0, 20001, 2500))
heatmap((718, 775, 974, 1012), 989, "HeatMap_6.png", H6_ROWS, H6_COLS, H6_VALUES, np.arange(0, 20001, 5000))
heatmap((1125, 775, 1381, 1012), 1396, "HeatMap_7.png", H7A_ROWS[1:], H7_COLS, H7A_VALUES[1:], np.arange(0, 20001, 2500))

# panel C
px_text(31, 1127, "C", fontsize=29, family="Liberation Serif", color="#444444")
px_text(737, 1125, "TSNE heatmap of normal control", fontsize=25, family="Liberation Sans", color="#222222")
ROWS3 = [(1298, 1353), (1364, 1419), (1430, 1485)]
tsne_block((132, 1181, 222, 1261), (232, 1180, 253, 1201), 176, [(103, 158), (186, 240)], ROWS3,
           T1_PATCHES, T1_CLASSES, T1_MARKERS, T1_LEVELS, T1_DECADES, T1_LEGEND)
tsne_block((342, 1179, 433, 1262), (443, 1180, 465, 1200), 400, [(327, 382), (408, 462)], ROWS3,
           T2_PATCHES, T2_CLASSES, T2_MARKERS, T2_LEVELS, T2_DECADES, T2_LEGEND)
tsne_block((572, 1181, 663, 1262), (672, 1180, 694, 1200), 634, [(562, 617), (643, 699)], ROWS3,
           T3_PATCHES, T3_CLASSES, T3_MARKERS, T3_LEVELS, T3_DECADES, T3_LEGEND)
tsne_block((832, 1181, 924, 1260), (930, 1180, 955, 1209), 877, [(802, 859), (886, 943)], ROWS3,
           T4_PATCHES, T4_CLASSES, T4_MARKERS, T4_LEVELS, T4_DECADES, T4_LEGEND)
tsne_block((1044, 1181, 1136, 1260), (1143, 1180, 1167, 1209), 1096, [(1021, 1078), (1105, 1162)],
           [(1297, 1338), (1347, 1387), (1395, 1436), (1443, 1484)],
           T5_PATCHES, T5_CLASSES, T5_MARKERS, T5_LEVELS, T5_DECADES, T5_LEGEND)
tsne_block((1265, 1181, 1356, 1260), (1362, 1180, 1387, 1209), 1307, [(1232, 1291), (1317, 1374)], ROWS3,
           T6_PATCHES, T6_CLASSES, T6_MARKERS, T6_LEVELS, T6_DECADES, T6_LEGEND)

fig.savefig("out.png", dpi=100)
